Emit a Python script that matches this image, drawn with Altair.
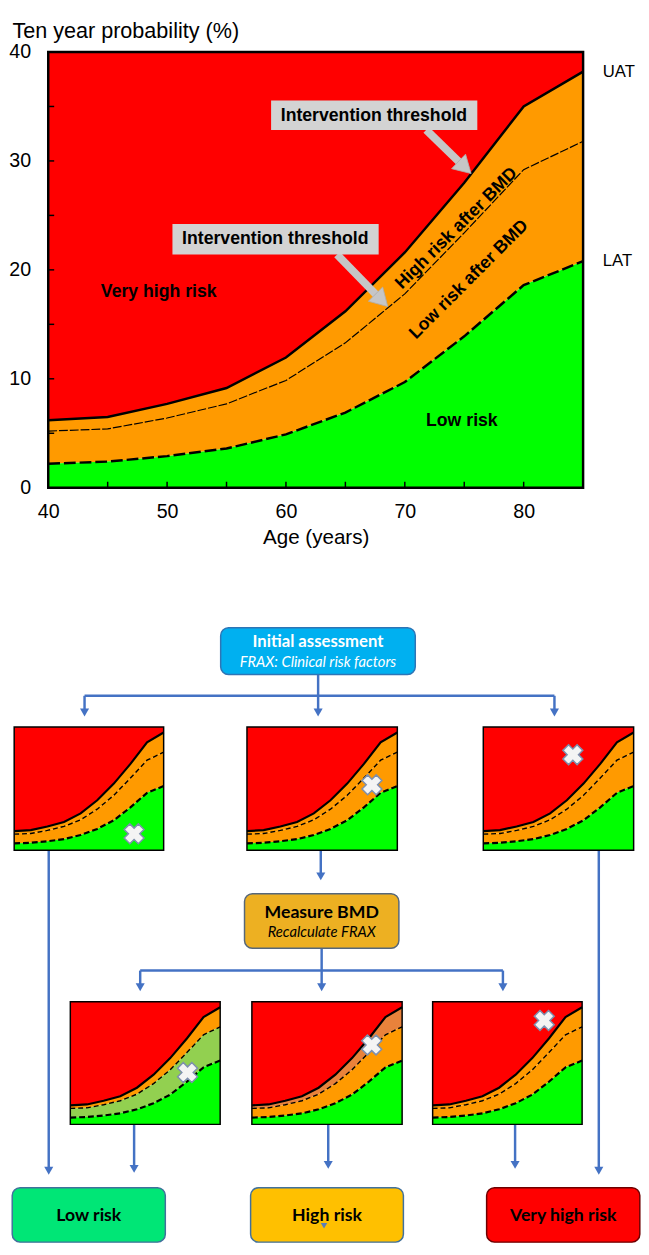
import altair as alt
import pandas as pd

# ---------------- main chart data ----------------
ages = [40, 45, 50, 55, 60, 65, 70, 75, 80, 85]
uat = [6.2, 6.5, 7.7, 9.15, 11.95, 16.2, 21.6, 28.0, 35.0, 38.2]
mid = [5.2, 5.4, 6.4, 7.7, 9.85, 13.3, 17.8, 23.4, 29.2, 31.8]
lat = [2.2, 2.4, 2.9, 3.6, 4.9, 6.9, 9.7, 13.9, 18.6, 20.8]

age_domain = [40, 85]
prob_domain = [0, 40]
x_tick_labels = [40, 50, 60, 70, 80]
y_tick_labels = [0, 10, 20, 30, 40]
x_minor_ticks = [45, 50, 55, 60, 65, 70, 75, 80]
y_minor_ticks = [5, 10, 15, 20, 25, 30, 35]

threshold_names = ["UAT", "LAT"]

zone_names = ["Very high risk", "Low risk"]
zone_age = [49.3, 74.8]
zone_prob = [18.0, 6.1]

band_names = ["High risk after BMD", "Low risk after BMD"]
band_age = [74.35, 75.4]
band_prob = [23.8, 19.1]

callout_names = ["Intervention threshold", "Intervention threshold"]
callout_age = [67.4, 59.1]
callout_prob = [34.15, 22.8]
callout_age_lo = [58.75, 50.45]
callout_age_hi = [76.1, 67.8]
callout_prob_lo = [32.85, 21.4]
callout_prob_hi = [35.55, 24.2]
pointer_tail_age = [71.8, 64.3]
pointer_tail_prob = [32.85, 21.4]
pointer_head_age = [75.05, 68.05]
pointer_head_prob = [29.4, 17.2]

# ---------------- flow chart data ----------------
step_names = ["Initial assessment", "Measure BMD", "Low risk", "High risk", "Very high risk"]
step_notes = ["FRAX: Clinical risk factors", "Recalculate FRAX", "", "", ""]

panel_ids = ["A1", "A2", "A3", "B1", "B2", "B3"]
patient_age = [76.1, 77.4, 66.8, 75.2, 75.9, 73.6]
patient_prob = [5.3, 21.2, 31.0, 16.9, 25.9, 33.9]

# ---------------- layout / style ----------------
RED, ORANGE, GREEN = "#FF0000", "#FF9A00", "#00FF00"
LIGHT_GREEN, DARK_ORANGE = "#92D050", "#E9823B"
BLUE = "#4472C4"
SANS = "Liberation Sans"
FLOW_FONT = "Lato"

FRAME_W, FRAME_H = 604, 1215   # whole drawing area (image x 45..649, y 40..1255)
TOP_W, TOP_H = 545, 444        # main plot area

step_layout = dict(
    left=[220.7, 245.0, 8.3, 251.2, 491.7],
    right=[419.0, 402.3, 164.3, 406.9, 647.8],
    top=[626.7, 897.7, 1197.3, 1197.3, 1197.3],
    bottom=[674.3, 953.3, 1252.7, 1252.7, 1252.7],
    name_y=[641.0, 917.3, 1226.0, 1226.0, 1226.0],
    note_y=[662.0, 936.7, 1226.0, 1226.0, 1226.0],
    fill=["#00B0F0", "#EDB022", "#00E676", "#FFC000", "#FF0000"],
    stroke=["#2E75B6", "#56677A", "#41719C", "#41719C", "#6E0000"],
)
panel_layout = dict(
    left=[10.3, 247.5, 488.3, 67.5, 252.5, 436.7],
    top=[727.7, 727.7, 727.7, 1007.7, 1007.7, 1007.7],
    w=[152.3, 153.2, 153.2, 152.7, 153.1, 152.3],
    h=[125.6, 125.6, 125.6, 125.0, 125.0, 125.0],
    upper=[ORANGE, ORANGE, ORANGE, ORANGE, DARK_ORANGE, ORANGE],
    lower=[ORANGE, ORANGE, ORANGE, LIGHT_GREEN, ORANGE, ORANGE],
)
connectors = dict(  # plain blue lines
    x=[320.0, 82.0, 323.6, 138.7],
    y=[674.3, 696.0, 953.3, 976.0],
    x2=[320.0, 560.8, 323.6, 508.3],
    y2=[696.0, 696.0, 976.0, 976.0],
)
arrows = dict(  # blue arrows (vertical, pointing down)
    x=[82.0, 320.0, 560.8, 45.5, 322.7, 606.0, 138.7, 323.6, 508.3, 132.5, 330.3, 520.7],
    y=[696.0, 696.0, 696.0, 853.3, 853.3, 853.3, 976.0, 976.0, 976.0, 1132.7, 1132.7, 1132.7],
    tip=[717.0, 717.0, 717.0, 1184.0, 884.0, 1184.0, 997.0, 997.0, 997.0, 1182.0, 1178.0, 1178.0],
)

# ---------------- main chart ----------------
XT = alt.Scale(domain=age_domain, range=[0, TOP_W], nice=False, zero=False)
YT = alt.Scale(domain=prob_domain, range=[TOP_H, 0], nice=False, zero=False)

x_axis = alt.Axis(values=x_tick_labels, orient="bottom", offset=-(FRAME_H - TOP_H),
                  domain=False, ticks=False, tickSize=0, grid=False,
                  labelFontSize=20, labelFont=SANS, labelColor="black", labelPadding=14,
                  labelFlush=False, labelOverlap=False,
                  title="Age (years)", titleFontSize=21, titleFont=SANS,
                  titleFontWeight="normal", titleColor="black", titlePadding=6)
y_axis = alt.Axis(values=y_tick_labels, orient="left",
                  domain=False, ticks=False, tickSize=0, grid=False,
                  labelFontSize=20, labelFont=SANS, labelColor="black", labelPadding=18,
                  labelFlush=False, labelOverlap=False,
                  title="Ten year probability (%)", titleAngle=0, titleAlign="left",
                  titleBaseline="top", titleX=-37, titleY=-32, titleFontSize=22,
                  titleFont=SANS, titleFontWeight="normal", titleColor="black")


def tx(f, axis=None):
    return alt.X(f, scale=XT, axis=axis)


def ty(f, axis=None):
    return alt.Y(f, scale=YT, axis=axis)


curves = pd.DataFrame(dict(age=ages, uat=uat, mid=mid, lat=lat,
                           floor=prob_domain[0], ceil=prob_domain[1]))
base = alt.Chart(curves)

red_area = base.mark_area(color=RED).encode(x=tx("age:Q", x_axis), y=ty("uat:Q", y_axis), y2="ceil:Q")
orange_area = base.mark_area(color=ORANGE).encode(x=tx("age:Q"), y=ty("lat:Q"), y2="uat:Q")
green_area = base.mark_area(color=GREEN).encode(x=tx("age:Q"), y=ty("floor:Q"), y2="lat:Q")

line_uat = base.mark_line(color="black", strokeWidth=2.5).encode(x=tx("age:Q"), y=ty("uat:Q"))
line_mid = base.mark_line(color="black", strokeWidth=1.2, strokeDash=[9, 2]).encode(x=tx("age:Q"), y=ty("mid:Q"))
line_lat = base.mark_line(color="black", strokeWidth=2.5, strokeDash=[12, 4]).encode(x=tx("age:Q"), y=ty("lat:Q"))

frame = alt.Chart(pd.DataFrame(dict(a0=[age_domain[0]], a1=[age_domain[1]],
                                    p0=[prob_domain[0]], p1=[prob_domain[1]]))).mark_rect(
    fillOpacity=0, stroke="black", strokeWidth=2.5).encode(
    x=tx("a0:Q"), x2="a1:Q", y=ty("p0:Q"), y2="p1:Q")

xt_df = pd.DataFrame(dict(t=x_minor_ticks, p0=prob_domain[0], p1=prob_domain[0] + 0.55))
x_minor = alt.Chart(xt_df).mark_rule(color="black", strokeWidth=1.5).encode(
    x=tx("t:Q"), y=ty("p0:Q"), y2="p1:Q")
yt_df = pd.DataFrame(dict(t=y_minor_ticks, a0=age_domain[0], a1=age_domain[0] + 0.5))
y_minor = alt.Chart(yt_df).mark_rule(color="black", strokeWidth=1.5).encode(
    y=ty("t:Q"), x=tx("a0:Q"), x2="a1:Q")

thr_df = pd.DataFrame(dict(name=threshold_names, age=[ages[-1], ages[-1]], p=[uat[-1], lat[-1]]))
thr_text = alt.Chart(thr_df).mark_text(align="left", baseline="middle", dx=20, fontSize=17,
                                       font=SANS, color="black").encode(
    x=tx("age:Q"), y=ty("p:Q"), text="name:N")

zone_df = pd.DataFrame(dict(name=zone_names, age=zone_age, p=zone_prob))
zone_text = alt.Chart(zone_df).mark_text(fontSize=18, fontWeight="bold", font=SANS,
                                         color="black").encode(
    x=tx("age:Q"), y=ty("p:Q"), text="name:N")

band_df = pd.DataFrame(dict(name=band_names, age=band_age, p=band_prob))
band_text = alt.Chart(band_df).mark_text(fontSize=18, fontWeight="bold", font=SANS,
                                         color="black", angle=315).encode(
    x=tx("age:Q"), y=ty("p:Q"), text="name:N")

co_df = pd.DataFrame(dict(name=callout_names, age=callout_age, p=callout_prob,
                          a0=callout_age_lo, a1=callout_age_hi,
                          p0=callout_prob_lo, p1=callout_prob_hi,
                          ta=pointer_tail_age, tp=pointer_tail_prob,
                          ha=pointer_head_age, hp=pointer_head_prob,
                          ang=[134, 135.5]))
co_box = alt.Chart(co_df).mark_rect(color="#D3D3D3").encode(
    x=tx("a0:Q"), x2="a1:Q", y=ty("p0:Q"), y2="p1:Q")
co_text = alt.Chart(co_df).mark_text(fontSize=18, fontWeight="bold", font=SANS,
                                     color="black").encode(
    x=tx("age:Q"), y=ty("p:Q"), text="name:N")
co_shaft = alt.Chart(co_df).mark_rule(color="#C6C6C6", strokeWidth=8).encode(
    x=tx("ta:Q"), y=ty("tp:Q"), x2="ha:Q", y2="hp:Q")
co_head = alt.Chart(co_df).mark_point(shape="triangle-up", size=420, filled=True,
                                      fill="#C6C6C6", stroke="#AFAFAF", strokeWidth=0.8,
                                      opacity=1).encode(
    x=tx("ha:Q"), y=ty("hp:Q"), angle=alt.Angle("ang:Q", scale=None))

top_parts = [red_area, orange_area, green_area, line_uat, line_mid, line_lat,
             x_minor, y_minor, frame, thr_text, zone_text, band_text,
             co_shaft, co_head, co_box, co_text]

# ---------------- flow chart ----------------
XF = alt.Scale(domain=[45, 649], range=[0, FRAME_W], nice=False, zero=False)
YF = alt.Scale(domain=[40, 1255], range=[0, FRAME_H], nice=False, zero=False)


def fx(f):
    return alt.X(f, scale=XF, axis=None)


def fy(f):
    return alt.Y(f, scale=YF, axis=None)


n = len(ages)
area_rows, line_rows = [], []
for i, pid in enumerate(panel_ids):
    geo = dict(px0=panel_layout["left"][i], py0=panel_layout["top"][i],
               pw=panel_layout["w"][i], ph=panel_layout["h"][i])
    bands = [("top", uat, [prob_domain[1]] * n, RED),
             ("upper", mid, uat, panel_layout["upper"][i]),
             ("lower", lat, mid, panel_layout["lower"][i]),
             ("bottom", [prob_domain[0]] * n, lat, GREEN)]
    for bname, lo, hi, col in bands:
        for a, l, h in zip(ages, lo, hi):
            area_rows.append(dict(key=f"{pid}-{bname}", age=a, lo=l, hi=h, color=col, **geo))
    for kind, vals in (("uat", uat), ("mid", mid), ("lat", lat)):
        for a, v in zip(ages, vals):
            line_rows.append(dict(key=f"{pid}-{kind}", kind=kind, age=a, v=v, **geo))

A0, AS = age_domain[0], age_domain[1] - age_domain[0]
PS = prob_domain[1] - prob_domain[0]
mx = f"datum.px0 + (datum.age - {A0}) / {AS} * datum.pw"

mini_area = alt.Chart(pd.DataFrame(area_rows)).transform_calculate(
    mx=mx,
    mlo=f"datum.py0 + datum.ph * (1 - datum.lo / {PS})",
    mhi=f"datum.py0 + datum.ph * (1 - datum.hi / {PS})",
).mark_area(opacity=1).encode(
    x=fx("mx:Q"), y=fy("mlo:Q"), y2="mhi:Q",
    color=alt.Color("color:N", scale=None), detail="key:N")

line_src = alt.Chart(pd.DataFrame(line_rows)).transform_calculate(
    mx=mx, my=f"datum.py0 + datum.ph * (1 - datum.v / {PS})")
mini_uat = line_src.transform_filter("datum.kind == 'uat'").mark_line(
    color="black", strokeWidth=2.2).encode(x=fx("mx:Q"), y=fy("my:Q"), detail="key:N")
mini_mid = line_src.transform_filter("datum.kind == 'mid'").mark_line(
    color="black", strokeWidth=1.4, strokeDash=[5, 3]).encode(x=fx("mx:Q"), y=fy("my:Q"), detail="key:N")
mini_lat = line_src.transform_filter("datum.kind == 'lat'").mark_line(
    color="black", strokeWidth=2.2, strokeDash=[6, 3]).encode(x=fx("mx:Q"), y=fy("my:Q"), detail="key:N")

panel_df = pd.DataFrame(dict(panel=panel_ids, age=patient_age, p=patient_prob,
                             px0=panel_layout["left"], py0=panel_layout["top"],
                             pw=panel_layout["w"], ph=panel_layout["h"]))
mini_frame = alt.Chart(panel_df).transform_calculate(
    x1="datum.px0 + datum.pw", y1="datum.py0 + datum.ph").mark_rect(
    fillOpacity=0, stroke="black", strokeWidth=1.5).encode(
    x=fx("px0:Q"), x2="x1:Q", y=fy("py0:Q"), y2="y1:Q")
markers = alt.Chart(panel_df).transform_calculate(
    mx=mx, my=f"datum.py0 + datum.ph * (1 - datum.p / {PS})").mark_point(
    shape="cross", angle=45, size=420, filled=True, fill="#F4F4F4",
    stroke="#7D8FAE", strokeWidth=1.5, opacity=1).encode(x=fx("mx:Q"), y=fy("my:Q"))

con = alt.Chart(pd.DataFrame(connectors)).mark_rule(color=BLUE, strokeWidth=2.5).encode(
    x=fx("x:Q"), y=fy("y:Q"), x2="x2:Q", y2="y2:Q")
arr_df = pd.DataFrame(arrows)
arr_shaft = alt.Chart(arr_df).mark_rule(color=BLUE, strokeWidth=2.5, y2Offset=-5).encode(
    x=fx("x:Q"), y=fy("y:Q"), y2="tip:Q")
arr_head = alt.Chart(arr_df).mark_point(shape="triangle-down", size=85, filled=True,
                                        color=BLUE, opacity=1, yOffset=-4).encode(
    x=fx("x:Q"), y=fy("tip:Q"))
stray = alt.Chart(pd.DataFrame(dict(x=[326.0], tip=[1239.0]))).mark_point(
    shape="triangle-down", size=45, filled=True, color="#5B7DB8", opacity=1, yOffset=-3).encode(
    x=fx("x:Q"), y=fy("tip:Q"))

step_df = pd.DataFrame(dict(name=step_names, note=step_notes, **step_layout))
step_box = alt.Chart(step_df).mark_rect(cornerRadius=8, strokeWidth=1.5).encode(
    x=fx("left:Q"), x2="right:Q", y=fy("top:Q"), y2="bottom:Q",
    fill=alt.Fill("fill:N", scale=None), stroke=alt.Stroke("stroke:N", scale=None))
step_src = alt.Chart(step_df).transform_calculate(cx="(datum.left + datum.right) / 2")
name_white = step_src.transform_filter("datum.name == 'Initial assessment'").mark_text(
    font=FLOW_FONT, fontSize=17, fontWeight="bold", color="white").encode(
    x=fx("cx:Q"), y=fy("name_y:Q"), text="name:N")
note_white = step_src.transform_filter("datum.name == 'Initial assessment'").mark_text(
    font=FLOW_FONT, fontSize=15, fontStyle="italic", color="white").encode(
    x=fx("cx:Q"), y=fy("note_y:Q"), text="note:N")
name_black = step_src.transform_filter("datum.name != 'Initial assessment'").mark_text(
    font=FLOW_FONT, fontSize=18, fontWeight="bold", color="black").encode(
    x=fx("cx:Q"), y=fy("name_y:Q"), text="name:N")
note_black = step_src.transform_filter("datum.name == 'Measure BMD'").mark_text(
    font=FLOW_FONT, fontSize=15, fontStyle="italic", color="black").encode(
    x=fx("cx:Q"), y=fy("note_y:Q"), text="note:N")

flow_parts = [con, arr_shaft, arr_head, mini_area, mini_uat, mini_mid, mini_lat,
              mini_frame, markers, step_box, name_white, note_white, name_black,
              note_black, stray]

chart = alt.layer(*top_parts, *flow_parts).resolve_scale(
    x="independent", y="independent").properties(
    width=FRAME_W, height=FRAME_H, padding=0).configure_view(stroke=None)

chart.save("out.html", embed_options={"renderer": "svg", "actions": False})
